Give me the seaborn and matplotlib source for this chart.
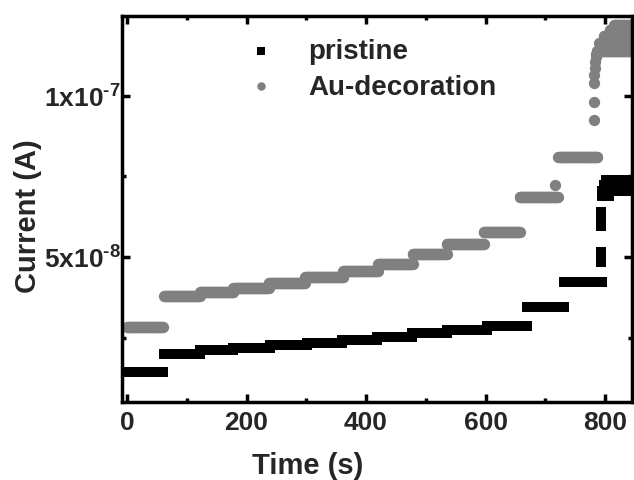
import numpy as np
import pandas as pd
import matplotlib
matplotlib.use("Agg")
import matplotlib.pyplot as plt
import seaborn as sns
from matplotlib.ticker import FixedLocator, FuncFormatter

# step levels (current in units of 1e-8 A, time in s)
pristine_start = [0, 62, 122, 178, 240, 301, 360, 418, 477, 535, 602, 670, 732,
                  795, 798, 802, 795]
pristine_end = [60, 122, 178, 240, 301, 360, 418, 477, 535, 602, 670, 732, 795,
                848, 848, 848, 806]
pristine_level = [1.44, 1.98, 2.10, 2.18, 2.26, 2.34, 2.43, 2.53, 2.63, 2.73, 2.87, 3.45, 4.22,
                  7.05, 7.22, 7.38, 6.88]
pristine_jump_time = [793, 793, 794, 794, 794]
pristine_jump_level = [4.85, 5.15, 5.95, 6.15, 6.40]

au_start = [0, 62, 122, 178, 237, 298, 362, 420, 478, 535, 597, 657, 722,
            786, 790, 798, 808, 815]
au_end = [60, 122, 178, 237, 298, 362, 420, 478, 535, 597, 657, 721, 787,
          848, 848, 848, 848, 848]
au_level = [2.83, 3.78, 3.90, 4.04, 4.18, 4.37, 4.56, 4.77, 5.08, 5.40, 5.78, 6.86, 8.10,
            11.4, 11.65, 11.85, 12.05, 12.2]
au_jump_time = [716, 781, 781, 781, 782, 783, 783, 784, 785]
au_jump_level = [7.24, 9.25, 9.8, 10.4, 10.65, 10.85, 11.05, 11.2, 11.3]

y_major = [5e-8, 1e-7]
y_minor = [2.5e-8, 7.5e-8, 1.25e-7]
x_major = [0, 200, 400, 600, 800]
x_minor = [100, 300, 500, 700]


def build_frame(starts, ends, levels, jump_t, jump_l):
    t, c = [], []
    for a, b, lv in zip(starts, ends, levels):
        tt = np.arange(a, b + 1, 1.0)
        t.extend(tt)
        c.extend([lv * 1e-8] * len(tt))
    t.extend(jump_t)
    c.extend([v * 1e-8 for v in jump_l])
    return pd.DataFrame({"time": t, "current": c})


pristine = build_frame(pristine_start, pristine_end, pristine_level,
                       pristine_jump_time, pristine_jump_level)
au = build_frame(au_start, au_end, au_level, au_jump_time, au_jump_level)

sns.set_style("ticks")
plt.rcParams["font.family"] = ["Liberation Sans", "DejaVu Sans"]
plt.rcParams["font.weight"] = "bold"
plt.rcParams["mathtext.fontset"] = "custom"
plt.rcParams["mathtext.rm"] = "Liberation Sans:bold"
plt.rcParams["mathtext.bf"] = "Liberation Sans:bold"
plt.rcParams["mathtext.it"] = "Liberation Sans:bold"

fig = plt.figure(figsize=(6.34, 4.81), dpi=100)
ax = fig.add_axes([0.1924, 0.1622, 0.8044, 0.8025])

sns.scatterplot(data=pristine, x="time", y="current", marker="s", color="black",
                s=56, linewidth=0, label="pristine", ax=ax)
sns.scatterplot(data=au, x="time", y="current", marker="o", color="#808080",
                s=66, linewidth=0, label="Au-decoration", ax=ax)

ax.set_xlim(-8.4, 845)
ax.set_ylim(0.5e-8, 1.248e-7)

ax.xaxis.set_major_locator(FixedLocator(x_major))
ax.xaxis.set_minor_locator(FixedLocator(x_minor))
ax.yaxis.set_major_locator(FixedLocator(y_major))
ax.yaxis.set_minor_locator(FixedLocator(y_minor))


def sci_label(v, pos):
    exp = int(np.floor(np.log10(v)))
    mant = v / 10 ** exp
    return r"$\mathbf{%dx10^{\text{-%d}}}$" % (round(mant), -exp)


ax.yaxis.set_major_formatter(FuncFormatter(sci_label))

ax.tick_params(which="both", direction="in", top=True, right=True, width=2.5, color="black")
ax.tick_params(which="major", length=6, labelsize=19)
ax.tick_params(axis="x", which="major", pad=6)
ax.tick_params(axis="y", which="major", pad=1)
ax.tick_params(which="minor", length=3)
for sp in ax.spines.values():
    sp.set_linewidth(2.5)
    sp.set_color("black")

ax.set_xlabel("Time (s)", fontsize=21, fontweight="bold")
ax.set_ylabel("Current (A)", fontsize=21, fontweight="bold")
ax.xaxis.set_label_coords(0.365, -0.127)
ax.yaxis.set_label_coords(-0.157, 0.484)

ax.legend(loc="upper left", bbox_to_anchor=(0.245, 0.943), frameon=False,
          fontsize=20, borderpad=0, borderaxespad=0, handlelength=1.0,
          handletextpad=1.2, labelspacing=0.35, markerscale=0.75)

fig.savefig("out.png", dpi=100)
